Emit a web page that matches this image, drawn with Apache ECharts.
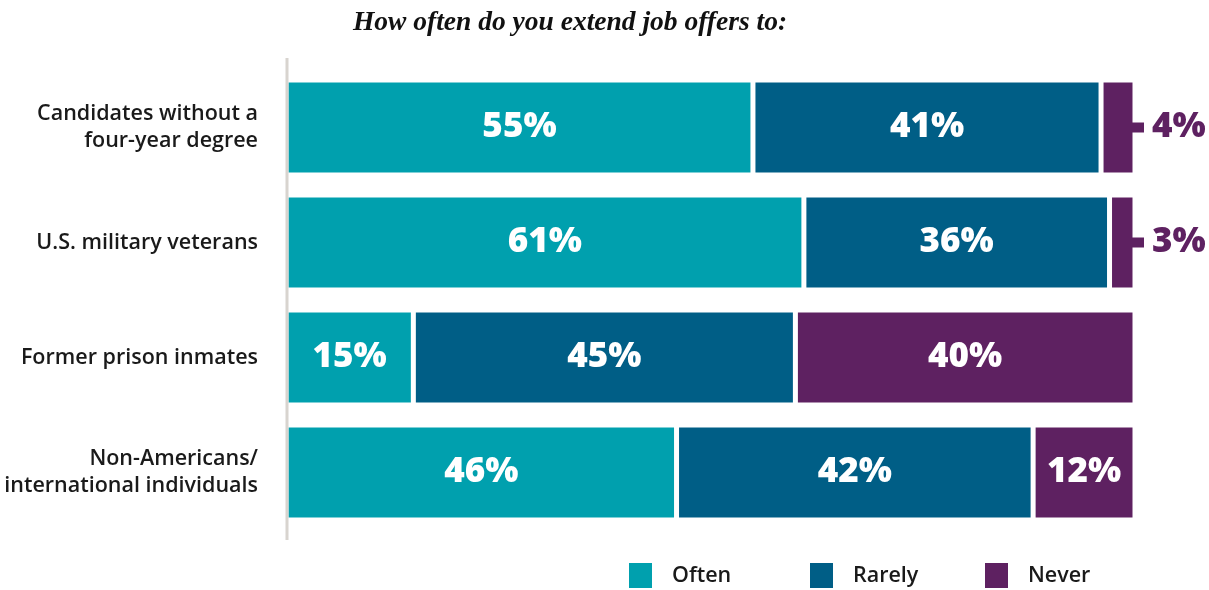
<!DOCTYPE html>
<html>
<head>
<meta charset="utf-8">
<script src="https://cdn.jsdelivr.net/npm/echarts@6/dist/echarts.min.js"></script>
<style>
html,body{margin:0;padding:0;background:#fff;}
#chart{width:1209px;height:590px;}
</style>
</head>
<body>
<div id="chart"></div>
<script>
const categories = ['Candidates without a\nfour-year degree', 'U.S. military veterans', 'Former prison inmates', 'Non-Americans/\ninternational individuals'];
const seriesNames = ['Often', 'Rarely', 'Never'];
const often = [55, 61, 15, 46];
const rarely = [41, 36, 45, 42];
const never = [4, 3, 40, 12];
const colors = ['#00A0AE', '#005E86', '#5E2161'];
const titleText = 'How often do you extend job offers to:';
const legendLefts = [627, 808, 983];

const chart = echarts.init(document.getElementById('chart'));
const insideLabel = {
  show: true, position: 'inside', color: '#fff',
  fontFamily: 'Open Sans', fontWeight: 800, fontSize: 35,
  formatter: p => p.value + '%'
};
function buildNever() {
  return never.map(v => {
    if (v < 8) {
      return {
        value: v,
        label: {
          show: true, position: 'right', distance: 0, offset: [-4, 0],
          formatter: '{line|}{v|' + v + '%}',
          rich: {
            line: { backgroundColor: colors[2], width: 13, height: 10 },
            v: { color: colors[2], fontFamily: 'Open Sans', fontWeight: 800, fontSize: 35, padding: [0, 0, 0, 8] }
          }
        }
      };
    }
    return { value: v };
  });
}
const values = [often, rarely, null];
const series = seriesNames.map((name, i) => ({
  name: name,
  type: 'bar',
  stack: 'total',
  barWidth: 95,
  data: i === 2 ? buildNever() : values[i],
  itemStyle: { color: colors[i], borderColor: '#fff', borderWidth: 2.5 },
  label: insideLabel,
  emphasis: { disabled: true }
}));

const legends = seriesNames.map((name, i) => ({
  top: 561, left: legendLefts[i], padding: 0,
  itemWidth: 25, itemHeight: 27, itemGap: 0,
  icon: 'rect',
  selectedMode: false,
  textStyle: { fontFamily: 'Open Sans', fontWeight: 600, fontSize: 21.5, color: '#1a1a1a', padding: [0, 0, 0, 14] },
  data: [name]
}));

chart.setOption({
  animation: false,
  title: {
    text: titleText, left: 565, top: 4, textAlign: 'center',
    textStyle: { fontFamily: 'Liberation Serif', fontStyle: 'italic', fontWeight: 'bold', fontSize: 27.5, color: '#111' }
  },
  legend: legends,
  grid: { left: 286, right: 74, top: 70, height: 460 },
  xAxis: { type: 'value', min: 0, max: 100, show: false },
  yAxis: {
    type: 'category', data: categories, inverse: true,
    axisLine: { show: false }, axisTick: { show: false },
    axisLabel: { margin: 28, fontFamily: 'Open Sans', fontWeight: 600, fontSize: 21.5, lineHeight: 27, color: '#1a1a1a', align: 'right' }
  },
  graphic: [{
    type: 'line', shape: { x1: 287, y1: 58, x2: 287, y2: 540 },
    style: { stroke: '#d8d4cf', lineWidth: 3 }, z: 10
  }],
  series: series
});
</script>
</body>
</html>
